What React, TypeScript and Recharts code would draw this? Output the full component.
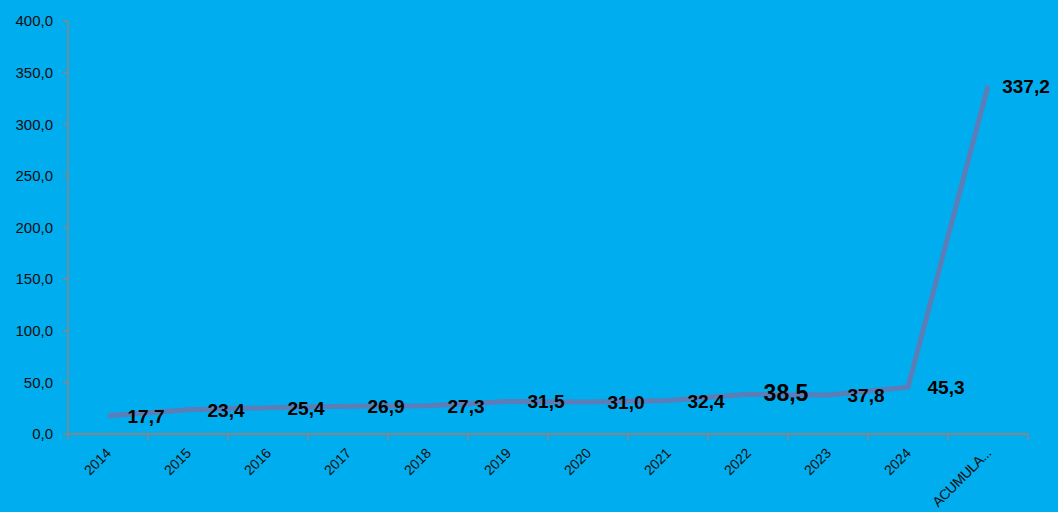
import React from "react"
import { LineChart, Line, XAxis, YAxis, LabelList } from "recharts"

const categories = ["2014", "2015", "2016", "2017", "2018", "2019", "2020", "2021", "2022", "2023", "2024", "ACUMULA..."]
const values = [17.7, 23.4, 25.4, 26.9, 27.3, 31.5, 31.0, 32.4, 38.5, 37.8, 45.3, 337.2]
const yTicks = [0, 50, 100, 150, 200, 250, 300, 350, 400]

const chartData = categories.map((name, i) => ({ name, value: values[i] }))

const fmt = (v: number) => v.toFixed(1).replace(".", ",")
const FONT = "Liberation Sans, Arial, sans-serif"

// x ticks: rotated label at the category centre, tick marks at the band edges
function XTick(props: any) {
  const { x, y, payload, index } = props
  const half = 40
  const ax = x + 4
  const ay = y + 12
  return (
    <g>
      <line x1={x - half} y1={y - 8} x2={x - half} y2={y - 2} stroke="#868686" strokeWidth={1.5} />
      {index === categories.length - 1 && (
        <line x1={x + half} y1={y - 8} x2={x + half} y2={y - 2} stroke="#868686" strokeWidth={1.5} />
      )}
      <text
        x={ax}
        y={ay}
        textAnchor="end"
        transform={`rotate(-45, ${ax}, ${ay})`}
        fontSize={14}
        letterSpacing={index === categories.length - 1 ? -0.4 : 0}
        fontFamily={FONT}
        fill="#0d0d0d"
      >
        {payload.value}
      </text>
    </g>
  )
}

function ValueLabel(props: any) {
  const { x, y, value, index } = props
  const big = index === 8
  return (
    <text
      x={x + 38}
      y={y + 7}
      textAnchor="middle"
      fontSize={big ? 23 : 19}
      fontWeight="bold"
      fontFamily={FONT}
      fill="#000"
    >
      {fmt(value)}
    </text>
  )
}

export default function App() {
  return (
    <div style={{ position: "fixed", left: 0, top: 0, width: 1058, height: 512, background: "#00AEEF" }}>
      <LineChart width={1058} height={512} data={chartData} margin={{ top: 21, right: 30, bottom: 0, left: 0 }}>
        <XAxis
          dataKey="name"
          height={78}
          interval={0}
          padding={{ left: 40, right: 40 }}
          stroke="#868686"
          strokeWidth={2}
          tickLine={false}
          tick={<XTick />}
        />
        <YAxis
          width={68}
          domain={[0, 400]}
          ticks={yTicks}
          tickFormatter={fmt}
          stroke="#868686"
          strokeWidth={1.5}
          tickSize={5}
          tickMargin={10}
          tick={{ fontSize: 15, fontFamily: FONT, fill: "#0d0d0d" }}
        />
        <Line
          type="linear"
          dataKey="value"
          stroke="#5B7DB8"
          strokeWidth={5}
          dot={false}
          isAnimationActive={false}
        >
          <LabelList dataKey="value" content={<ValueLabel />} />
        </Line>
      </LineChart>
    </div>
  )
}
